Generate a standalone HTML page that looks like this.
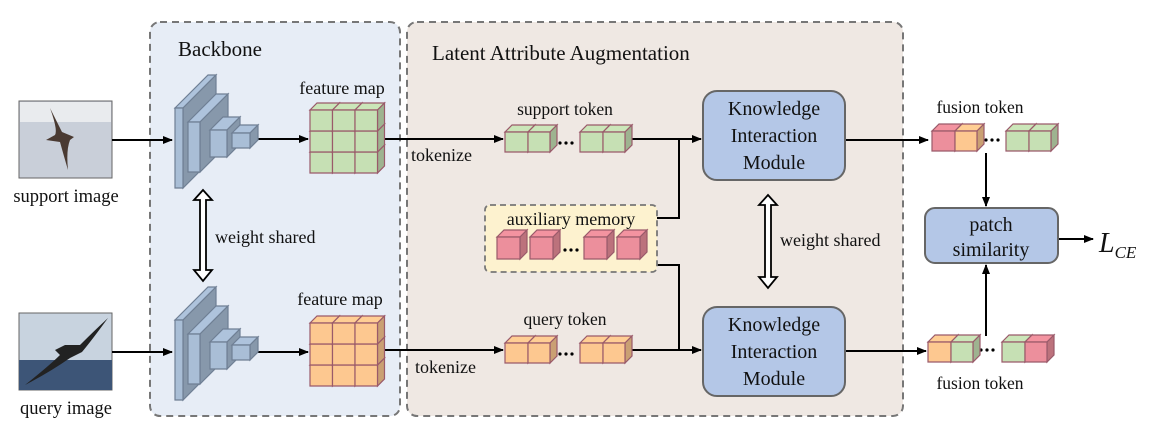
<!DOCTYPE html>
<html><head><meta charset="utf-8"><style>
html,body{margin:0;padding:0;background:#fff}
svg{display:block}
text{font-family:"Liberation Serif",serif;fill:#111}
</style></head><body>
<svg id="s" width="1152" height="443" viewBox="0 0 1152 443" xmlns="http://www.w3.org/2000/svg">
<defs>
<marker id="ah" markerWidth="10" markerHeight="8" refX="9" refY="4" orient="auto" markerUnits="userSpaceOnUse"><path d="M0,0 L10,4 L0,8 z" fill="#000"/></marker>
</defs>
<rect x="150" y="22" width="250" height="394" rx="10" fill="#e7edf6" stroke="#777" stroke-width="2" stroke-dasharray="7,5"/>
<rect x="407" y="22" width="496" height="394" rx="10" fill="#efe8e3" stroke="#777" stroke-width="2" stroke-dasharray="7,5"/>
<text x="178" y="56" font-size="21">Backbone</text>
<text x="432" y="60" font-size="21">Latent Attribute Augmentation</text>

<!-- images -->
<rect x="19" y="101" width="93" height="77" fill="#c9cfd9" stroke="#666"/>
<rect x="20" y="102" width="91" height="20" fill="#e9ebee"/>
<path d="M50,108 Q58,130 55,135 L46,140 L60,142 Q65,160 68,170 Q66,150 70,140 L74,137 L62,132 Q55,118 50,108z" fill="#4a3a32"/>
<rect x="19" y="313" width="93" height="77" fill="#c8d3df" stroke="#666"/>
<rect x="19" y="360" width="93" height="30" fill="#3d5577"/>
<path d="M25,385 Q50,365 60,355 L55,350 L65,345 L80,345 Q95,330 108,318 Q92,340 82,352 L70,358 Q50,372 25,385z" fill="#222"/>
<text x="66" y="202" font-size="18.5" text-anchor="middle">support image</text>
<text x="66" y="414" font-size="18.5" text-anchor="middle">query image</text>

<!-- arrows -->
<g stroke="#000" stroke-width="2" fill="none">
<line x1="112" y1="140" x2="172" y2="140" marker-end="url(#ah)"/>
<line x1="112" y1="352" x2="172" y2="352" marker-end="url(#ah)"/>
<line x1="252" y1="139" x2="308" y2="139" marker-end="url(#ah)"/>
<line x1="252" y1="352" x2="308" y2="352" marker-end="url(#ah)"/>
<line x1="385" y1="139" x2="503" y2="139" marker-end="url(#ah)"/>
<line x1="385" y1="350" x2="503" y2="350" marker-end="url(#ah)"/>
<polyline points="632,139 679,139 679,218 657,218"/>
<polyline points="632,350 679,350 679,265 657,265"/>
<line x1="679" y1="139" x2="701" y2="139" marker-end="url(#ah)"/>
<line x1="679" y1="350" x2="701" y2="350" marker-end="url(#ah)"/>
<line x1="845" y1="140" x2="928" y2="140" marker-end="url(#ah)"/>
<line x1="845" y1="351" x2="926" y2="351" marker-end="url(#ah)"/>
<line x1="986" y1="153" x2="986" y2="206" marker-end="url(#ah)"/>
<line x1="986" y1="336" x2="986" y2="265" marker-end="url(#ah)"/>
<line x1="1058" y1="239" x2="1093" y2="239" marker-end="url(#ah)"/>
</g>
<text x="411" y="161" font-size="18">tokenize</text>
<text x="415" y="373" font-size="18">tokenize</text>

<!-- weight shared double arrows -->
<path d="M203,190 L212,200 L206,200 L206,270 L212,270 L203,281 L194,270 L200,270 L200,200 L194,200 z" fill="#fff" stroke="#000" stroke-width="1.8"/>
<text x="215" y="243" font-size="18">weight shared</text>
<path d="M768,195 L777,205 L771,205 L771,277 L777,277 L768,288 L759,277 L765,277 L765,205 L759,205 z" fill="#fff" stroke="#000" stroke-width="1.8"/>
<text x="780" y="246" font-size="18">weight shared</text>

<text x="342" y="94" font-size="18" text-anchor="middle">feature map</text>
<text x="340" y="305" font-size="18" text-anchor="middle">feature map</text>
<text x="565" y="115" font-size="17.5" text-anchor="middle">support token</text>
<text x="565" y="325" font-size="17.5" text-anchor="middle">query token</text>
<text x="980" y="113" font-size="17.5" text-anchor="middle">fusion token</text>
<text x="980" y="389" font-size="17.5" text-anchor="middle">fusion token</text>

<!-- aux memory -->
<rect x="485" y="205" width="172" height="67" rx="5" fill="#fdf2cf" stroke="#777" stroke-width="1.8" stroke-dasharray="6,4"/>
<text x="571" y="225" font-size="18" text-anchor="middle">auxiliary memory</text>

<!-- KIM -->
<rect x="703" y="91" width="142" height="89" rx="14" fill="#b4c7e7" stroke="#666" stroke-width="2"/>
<rect x="703" y="307" width="142" height="89" rx="14" fill="#b4c7e7" stroke="#666" stroke-width="2"/>
<g font-size="20" text-anchor="middle">
<text x="774" y="115">Knowledge</text><text x="774" y="142">Interaction</text><text x="774" y="169">Module</text>
<text x="774" y="331">Knowledge</text><text x="774" y="358">Interaction</text><text x="774" y="385">Module</text>
</g>
<rect x="925" y="208" width="133" height="55" rx="10" fill="#b4c7e7" stroke="#666" stroke-width="2"/>
<text x="991" y="231" font-size="20" text-anchor="middle">patch</text>
<text x="991" y="256" font-size="20" text-anchor="middle">similarity</text>
<text x="1099" y="252" font-size="28" font-style="italic">L<tspan font-size="17" dy="6">CE</tspan></text>

<g fill="#000">
<circle cx="560" cy="143" r="1.6"/><circle cx="566" cy="143" r="1.6"/><circle cx="572" cy="143" r="1.6"/>
<circle cx="560" cy="354" r="1.6"/><circle cx="566" cy="354" r="1.6"/><circle cx="572" cy="354" r="1.6"/>
<circle cx="565" cy="250" r="1.6"/><circle cx="571" cy="250" r="1.6"/><circle cx="577" cy="250" r="1.6"/>
<circle cx="986" cy="140" r="1.6"/><circle cx="992" cy="140" r="1.6"/><circle cx="998" cy="140" r="1.6"/>
<circle cx="981" cy="350" r="1.6"/><circle cx="987" cy="350" r="1.6"/><circle cx="993" cy="350" r="1.6"/>
</g>
<g id="g"></g>
</svg>
<script>
var g=document.getElementById('g'),NS='http://www.w3.org/2000/svg';
function P(pts,fill,st){var p=document.createElementNS(NS,'polygon');p.setAttribute('points',pts);p.setAttribute('fill',fill);p.setAttribute('stroke',st||'#9a5a6a');p.setAttribute('stroke-width','1.2');g.appendChild(p);}
function shade(c,f){var n=parseInt(c.slice(1),16),r=(n>>16)*f,gg=((n>>8)&255)*f,b=(n&255)*f;return 'rgb('+(r|0)+','+(gg|0)+','+(b|0)+')';}
function cube(x,y,w,h,d,c,st){
 P(x+','+y+' '+(x+d)+','+(y-d)+' '+(x+w+d)+','+(y-d)+' '+(x+w)+','+y,shade(c,1.03),st);
 P((x+w)+','+y+' '+(x+w+d)+','+(y-d)+' '+(x+w+d)+','+(y+h-d)+' '+(x+w)+','+(y+h),shade(c,0.8),st);
 P(x+','+y+' '+(x+w)+','+y+' '+(x+w)+','+(y+h)+' '+x+','+(y+h),c,st);
}
var G='#c6e0b4',O='#fdc890',R='#ec8f9c',B='#a9bed6';
function net(y0){
 cube(175,y0,8,80,33,B,'#6f7f94');
 cube(188,y0+14,12,50,28,B,'#6f7f94');
 cube(210,y0+22,17,27,13,B,'#6f7f94');
 cube(232,y0+25,18,15,8,B,'#6f7f94');
}
net(108);net(320);
function fmap(x,y,c){for(var i=2;i>=0;i--)for(var j=0;j<3;j++)cube(x+j*22.5,y+i*21,22.5,21,7,c);}
fmap(310,110,G);fmap(310,323,O);
function tok(x,y,a,b){cube(x,y,23,20,7,a);cube(x+23,y,22,20,7,b);}
tok(505,132,G,G);tok(580,132,G,G);
tok(505,343,O,O);tok(580,343,O,O);
cube(497,237,23,22,7,R);cube(530,237,23,22,7,R);cube(584,237,23,22,7,R);cube(617,237,23,22,7,R);
tok(932,131,R,O);tok(1006,131,G,G);
tok(928,342,O,G);tok(1002,342,G,R);
</script>
</body></html>
